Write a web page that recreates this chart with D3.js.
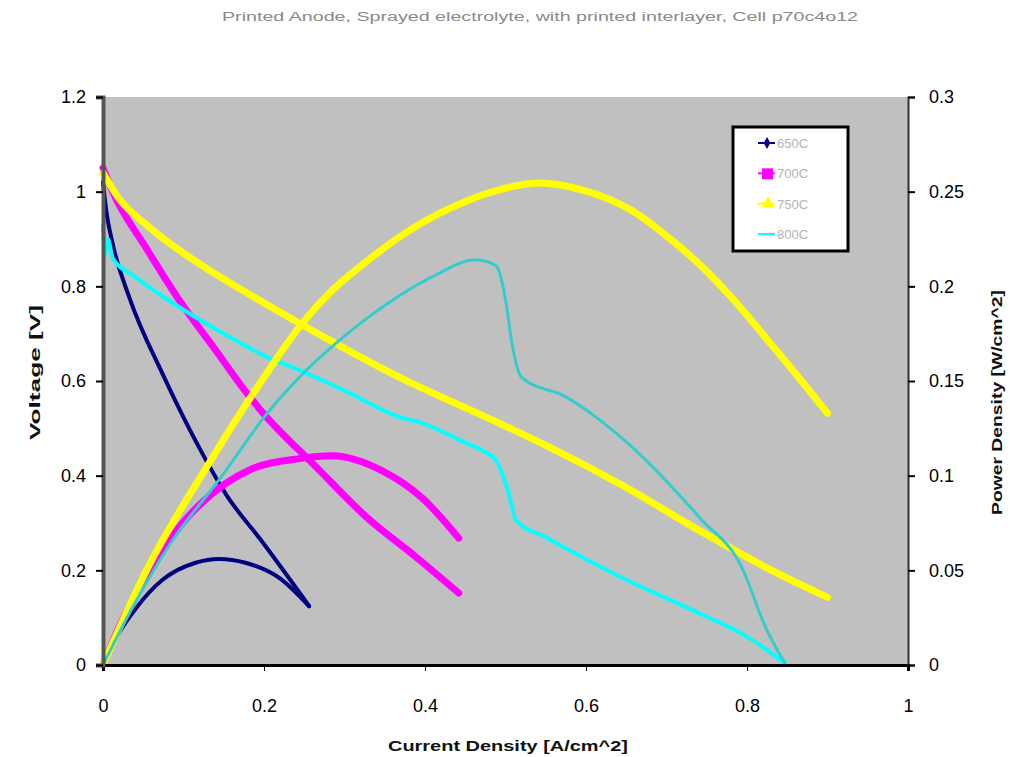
<!DOCTYPE html>
<html>
<head>
<meta charset="utf-8">
<script src="https://cdn.jsdelivr.net/npm/d3@7"></script>
<style>
body { margin: 0; background: #fff; }
text { font-family: "Liberation Sans", Arial, sans-serif; }
</style>
</head>
<body>
<script>
// series names (legend)
let seriesNames = ["650C", "700C", "750C", "800C"]
let seriesColors = ["#000080", "#FF00FF", "#FFFF00", "#00FFFF"]
let powerColors = ["#000080", "#FF00FF", "#FFFF00", "#33CCCC"]

// current density [A/cm^2] and voltage [V]
let iNavy = [0, 0.004, 0.012, 0.033, 0.074, 0.124, 0.153, 0.198, 0.256]
let vNavy = [1.02, 0.96, 0.89, 0.775, 0.615, 0.445, 0.36, 0.26, 0.125]
let iNavyP = [0, 0.02, 0.041, 0.074, 0.115, 0.144, 0.177, 0.219, 0.256]
let pNavy = [0, 0.017, 0.03, 0.045, 0.054, 0.056, 0.054, 0.046, 0.031]

let iMag = [0, 0.012, 0.054, 0.095, 0.14, 0.177, 0.195, 0.265, 0.327, 0.389, 0.442]
let vMag = [1.05, 1.0, 0.88, 0.77, 0.665, 0.578, 0.54, 0.418, 0.313, 0.228, 0.152]
let iMagP = [0, 0.02, 0.054, 0.095, 0.153, 0.182, 0.244, 0.285, 0.347, 0.397, 0.442]
let pMag = [0, 0.02, 0.047, 0.073, 0.096, 0.103, 0.109, 0.1105, 0.1025, 0.088, 0.067]

let iYel = [0, 0.02, 0.054, 0.1, 0.136, 0.2, 0.244, 0.368, 0.492, 0.554, 0.65, 0.74, 0.823, 0.9]
let vYel = [1.04, 0.985, 0.93, 0.87, 0.83, 0.765, 0.722, 0.608, 0.511, 0.461, 0.375, 0.285, 0.207, 0.143]
let iYelP = [0, 0.054, 0.128, 0.2, 0.244, 0.285, 0.327, 0.368, 0.43, 0.492, 0.541, 0.595, 0.657, 0.699, 0.74, 0.781, 0.823, 0.864, 0.9]
let pYel = [0, 0.05, 0.104, 0.152, 0.1786, 0.198, 0.213, 0.226, 0.241, 0.251, 0.2546, 0.251, 0.24, 0.227, 0.212, 0.194, 0.173, 0.152, 0.133]

let iCyan = [0, 0.003, 0.006, 0.012, 0.04, 0.082, 0.15, 0.206, 0.244, 0.3, 0.368, 0.393, 0.451, 0.475, 0.488, 0.504, 0.513, 0.55, 0.591, 0.65, 0.74, 0.8, 0.847]
let vCyan = [0.93, 0.87, 0.9, 0.86, 0.82, 0.77, 0.7, 0.649, 0.623, 0.58, 0.524, 0.513, 0.469, 0.45, 0.433, 0.363, 0.306, 0.27, 0.232, 0.18, 0.11, 0.06, 0.004]
let iCyanP = [0, 0.04, 0.082, 0.148, 0.206, 0.244, 0.298, 0.347, 0.409, 0.463, 0.488, 0.5, 0.508, 0.52, 0.575, 0.637, 0.743, 0.793, 0.823, 0.847]
let pCyan = [0, 0.033, 0.063, 0.1, 0.134, 0.152, 0.173, 0.189, 0.205, 0.214, 0.211, 0.193, 0.17, 0.152, 0.1416, 0.1226, 0.077, 0.052, 0.02, 0.001]

// tick labels
let xTicks = [0, 0.2, 0.4, 0.6, 0.8, 1]
let yTicks = [0, 0.2, 0.4, 0.6, 0.8, 1, 1.2]
let y2Ticks = [0, 0.05, 0.1, 0.15, 0.2, 0.25, 0.3]

let w = 1010
let h = 757
let plotLeft = 103
let plotRight = 908
let plotTop = 97
let plotBottom = 665

let svg = d3.select("body").append("svg")
  .attr("width", w)
  .attr("height", h)

let xScale = d3.scaleLinear().domain([0, 1]).range([plotLeft, plotRight])
let yScale = d3.scaleLinear().domain([0, 1.2]).range([plotBottom, plotTop])
let y2Scale = d3.scaleLinear().domain([0, 0.3]).range([plotBottom, plotTop])

// plot background
svg.append("rect")
  .attr("x", plotLeft)
  .attr("y", plotTop)
  .attr("width", plotRight - plotLeft)
  .attr("height", plotBottom - plotTop)
  .attr("fill", "#C0C0C0")

// title
svg.append("text")
  .text("Printed Anode, Sprayed electrolyte, with printed interlayer, Cell p70c4o12")
  .attr("x", 222)
  .attr("y", 21)
  .attr("textLength", 636)
  .attr("lengthAdjust", "spacingAndGlyphs")
  .attr("font-size", 12)
  .attr("fill", "#8a8a8a")

let zip = (xs, ys) => xs.map((x, i) => [x, ys[i]])

let vLine = d3.line().curve(d3.curveMonotoneX).x(d => xScale(d[0])).y(d => yScale(d[1]))
let pLine = d3.line().curve(d3.curveMonotoneX).x(d => xScale(d[0])).y(d => y2Scale(d[1]))

let voltSeries = [
  {data: zip(iNavy, vNavy), color: seriesColors[0], width: 4},
  {data: zip(iMag, vMag), color: seriesColors[1], width: 7},
  {data: zip(iYel, vYel), color: seriesColors[2], width: 7},
  {data: zip(iCyan, vCyan), color: seriesColors[3], width: 4}
]
let powerSeries = [
  {data: zip(iNavyP, pNavy), color: powerColors[0], width: 4, dash: null},
  {data: zip(iMagP, pMag), color: powerColors[1], width: 7, dash: null},
  {data: zip(iYelP, pYel), color: powerColors[2], width: 7, dash: null},
  {data: zip(iCyanP, pCyan), color: powerColors[3], width: 3, dash: "4,1.5"}
]

voltSeries.forEach(s => {
  svg.append("path")
    .attr("d", vLine(s.data))
    .attr("fill", "none")
    .attr("stroke", s.color)
    .attr("stroke-width", s.width)
    .attr("stroke-linejoin", "round")
    .attr("stroke-linecap", "round")
})
powerSeries.forEach(s => {
  svg.append("path")
    .attr("d", pLine(s.data))
    .attr("fill", "none")
    .attr("stroke", s.color)
    .attr("stroke-width", s.width)
    .attr("stroke-dasharray", s.dash)
    .attr("stroke-linejoin", "round")
    .attr("stroke-linecap", "round")
})

// axes
let xAxis = d3.axisBottom(xScale).tickValues(xTicks).tickFormat(d3.format("~g")).tickSize(6).tickPadding(28)
svg.append("g")
  .attr("transform", "translate(0," + plotBottom + ")")
  .call(xAxis)
  .call(g => g.select(".domain").attr("stroke", "#000").attr("stroke-width", 3))
  .call(g => g.selectAll("text").attr("font-size", 18).attr("fill", "#000"))

let yAxis = d3.axisLeft(yScale).tickValues(yTicks).tickFormat(d3.format("~g")).tickSize(7).tickPadding(10)
svg.append("g")
  .attr("transform", "translate(" + plotLeft + ",0)")
  .call(yAxis)
  .call(g => g.select(".domain").attr("stroke", "#555").attr("stroke-width", 4))
  .call(g => g.selectAll("line").attr("stroke-width", 2))
  .call(g => g.selectAll("text").attr("font-size", 18).attr("fill", "#000"))

let y2Axis = d3.axisRight(y2Scale).tickValues(y2Ticks).tickFormat(d3.format("~g")).tickSize(7).tickPadding(14)
svg.append("g")
  .attr("transform", "translate(" + plotRight + ",0)")
  .call(y2Axis)
  .call(g => g.select(".domain").attr("stroke", "#333").attr("stroke-width", 2))
  .call(g => g.selectAll("line").attr("stroke-width", 2))
  .call(g => g.selectAll("text").attr("font-size", 18).attr("fill", "#000"))

// axis titles
svg.append("text")
  .text("Current Density [A/cm^2]")
  .attr("x", 388)
  .attr("y", 751)
  .attr("textLength", 240)
  .attr("lengthAdjust", "spacingAndGlyphs")
  .attr("font-size", 15)
  .attr("font-weight", "bold")
  .attr("fill", "#111")

svg.append("text")
  .text("Voltage [V]")
  .attr("transform", "translate(40,440) rotate(-90)")
  .attr("textLength", 135)
  .attr("lengthAdjust", "spacingAndGlyphs")
  .attr("font-size", 15)
  .attr("font-weight", "bold")
  .attr("fill", "#111")

svg.append("text")
  .text("Power Density [W/cm^2]")
  .attr("transform", "translate(1002,515) rotate(-90)")
  .attr("textLength", 225)
  .attr("lengthAdjust", "spacingAndGlyphs")
  .attr("font-size", 15)
  .attr("font-weight", "bold")
  .attr("fill", "#111")

// legend
let lg = svg.append("g")
lg.append("rect")
  .attr("x", 733)
  .attr("y", 127)
  .attr("width", 115)
  .attr("height", 124)
  .attr("fill", "#fff")
  .attr("stroke", "#000")
  .attr("stroke-width", 3)

let legendY = d3.scalePoint().domain(seriesNames).range([143, 234])
seriesNames.forEach((name, i) => {
  let y = legendY(name)
  lg.append("line")
    .attr("x1", 758).attr("x2", 775)
    .attr("y1", y).attr("y2", y)
    .attr("stroke", seriesColors[i])
    .attr("stroke-width", 2)
  if (i === 0) {
    lg.append("path").attr("d", d3.symbol(d3.symbolDiamond, 40)()).attr("transform", "translate(767," + y + ")").attr("fill", seriesColors[i])
  } else if (i === 1) {
    lg.append("rect").attr("x", 762).attr("y", y - 5).attr("width", 11).attr("height", 11).attr("fill", seriesColors[i])
  } else if (i === 2) {
    lg.append("path").attr("d", d3.symbol(d3.symbolTriangle, 70)()).attr("transform", "translate(768," + y + ")").attr("fill", seriesColors[i])
  }
  lg.append("text")
    .text(name)
    .attr("x", 777)
    .attr("y", y + 5)
    .attr("font-size", 13)
    .attr("fill", "#b4b4b4")
})
</script>
</body>
</html>
